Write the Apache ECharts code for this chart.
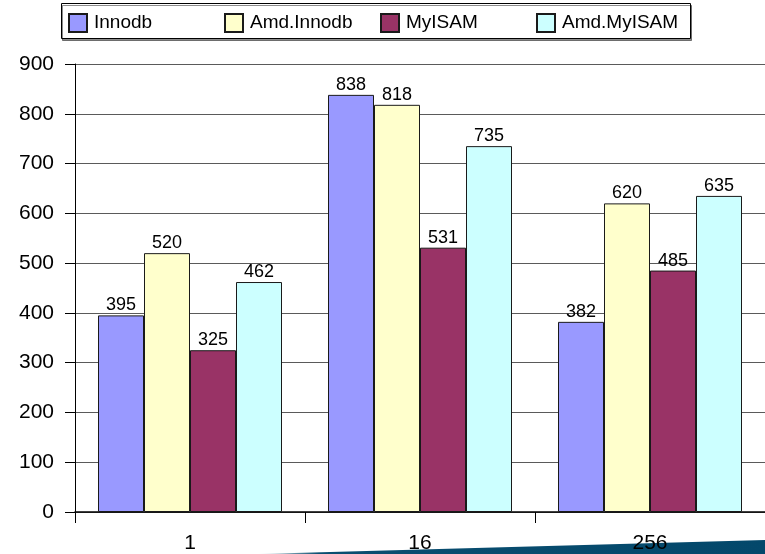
<!DOCTYPE html>
<html>
<head>
<meta charset="utf-8">
<script src="https://cdn.jsdelivr.net/npm/echarts@6/dist/echarts.min.js"></script>
<style>
  html, body { margin: 0; padding: 0; background: #fff; }
  #chart { width: 765px; height: 554px; }
</style>
</head>
<body>
<div id="chart"></div>
<script>
// Threads per run
const categories = ['1', '16', '256'];

// Throughput per engine
const innodb = [395, 838, 382];
const amdInnodb = [520, 818, 620];
const myisam = [325, 531, 485];
const amdMyisam = [462, 735, 635];

const seriesNames = ['Innodb', 'Amd.Innodb', 'MyISAM', 'Amd.MyISAM'];
const seriesValues = [innodb, amdInnodb, myisam, amdMyisam];
const seriesColors = ['#9999FF', '#FFFFCC', '#993366', '#CCFFFF'];

const yTicks = { min: 0, max: 900, interval: 100 };

const FONT = "'Liberation Sans', Arial, sans-serif";

// one legend per entry so the entries sit in evenly spaced columns
const legendLefts = [68, 224, 380, 536];
const legends = seriesNames.map((name, i) => ({
  data: [name],
  left: legendLefts[i],
  top: 13,
  padding: 0,
  itemWidth: 18,
  itemHeight: 18,
  icon: 'rect',
  textStyle: { fontFamily: FONT, fontSize: 19, color: '#000', padding: [0, 0, 0, 2] }
}));

const chart = echarts.init(document.getElementById('chart'), null, { renderer: 'canvas' });

chart.setOption({
  backgroundColor: '#fff',
  animation: false,
  textStyle: { fontFamily: FONT },
  graphic: [
    {
      type: 'rect',
      z: -2,
      shape: { x: 61.5, y: 3.5, width: 629, height: 35 },
      style: {
        fill: '#fff', stroke: '#000', lineWidth: 1,
        shadowColor: 'rgba(0,0,0,0.45)', shadowOffsetX: 1, shadowOffsetY: 2, shadowBlur: 0
      }
    },
    {
      type: 'polygon',
      z: -2,
      shape: { points: [[258, 554], [765, 540], [765, 554]] },
      style: {
        fill: {
          type: 'linear', x: 0, y: 0, x2: 1, y2: 0,
          colorStops: [
            { offset: 0, color: 'rgba(3,72,107,0.05)' },
            { offset: 0.12, color: '#0a4e70' },
            { offset: 1, color: '#03486B' }
          ]
        }
      }
    }
  ],
  legend: legends,
  grid: { left: 75, top: 64, width: 698, bottom: 42, containLabel: false },
  xAxis: {
    type: 'category',
    data: categories,
    boundaryGap: true,
    axisLine: { show: true, lineStyle: { color: '#000', width: 1.5 } },
    axisTick: { show: true, length: 11, lineStyle: { color: '#000' } },
    axisLabel: { fontFamily: FONT, fontSize: 21, color: '#000', margin: 21 }
  },
  yAxis: {
    type: 'value',
    min: yTicks.min,
    max: yTicks.max,
    interval: yTicks.interval,
    axisLine: { show: true, lineStyle: { color: '#000', width: 1 } },
    axisTick: { show: true, length: 10, lineStyle: { color: '#000' } },
    axisLabel: { fontFamily: FONT, fontSize: 21, color: '#000', margin: 21 },
    splitLine: { show: true, lineStyle: { color: '#5a5a5a', width: 1 } }
  },
  series: seriesNames.map((name, i) => ({
    name: name,
    type: 'bar',
    data: seriesValues[i],
    barGap: '0%',
    barCategoryGap: '20%',
    itemStyle: { color: seriesColors[i], borderColor: '#1a1a1a', borderWidth: 1 },
    label: {
      show: true,
      position: 'top',
      distance: 1,
      fontFamily: FONT,
      fontSize: 18,
      color: '#000'
    }
  }))
});
</script>
</body>
</html>
